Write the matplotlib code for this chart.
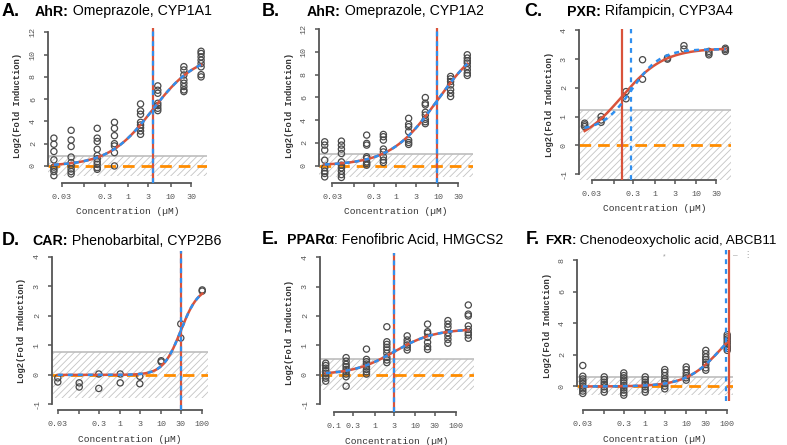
import numpy as np
import matplotlib.pyplot as plt

plt.rcParams['font.family'] = ['Liberation Sans', 'DejaVu Sans']
plt.rcParams['hatch.linewidth'] = 0.6

W, H = 787, 445
RED = '#d9533b'
BLUE = '#2f8fef'
ORANGE = '#ff8c00'
GREY = '#555555'
MONO = 'Liberation Mono'

# ---------------- data ----------------
conc_A = [0.02, 0.05, 0.2, 0.5, 2, 5, 20, 50]
resp_A = [
    [2.5, 1.95, 1.3, 0.55, -0.1, -0.3, -0.5, -0.87],
    [3.2, 2.33, 1.75, 0.8, 0.3, 0.05, -0.27, -0.5, -0.72],
    [3.38, 2.5, 2.2, 1.5, 0.93, 0.65, 0.38, 0.15, -0.15, -0.3],
    [3.92, 3.38, 2.72, 2.0, 1.8, 1.2, 0.0],
    [5.57, 4.94, 4.64, 3.92, 3.68, 3.44, 3.14, 2.84],
    [7.19, 6.8, 6.53, 5.63, 5.42, 5.18, 4.97],
    [8.92, 8.62, 8.17, 7.72, 7.43, 7.13, 6.83, 6.68],
    [10.3, 10.1, 9.8, 9.5, 9.2, 8.9, 8.2, 8.0],
]
conc_B = [0.02, 0.05, 0.2, 0.5, 2, 5, 20, 50]
resp_B = [
    [2.09, 1.8, 1.36, 0.47, -0.2, -0.5, -0.7, -1.0],
    [2.15, 1.8, 1.45, 1.06, 0.32, 0.03, -0.2, -0.5, -0.8, -1.05],
    [2.68, 1.95, 1.8, 0.77, 0.62, 0.32, 0.18, 0.03],
    [2.74, 2.54, 2.24, 1.45, 1.2, 0.77, 0.47, 0.27],
    [4.16, 3.63, 3.42, 2.98, 2.24, 2.03, 1.86],
    [5.99, 5.49, 5.34, 4.69, 4.45, 4.07, 3.86, 3.69],
    [7.85, 7.64, 7.4, 7.1, 6.67, 6.37, 6.08],
    [9.76, 9.47, 9.23, 9.03, 8.73, 8.44, 8.14, 7.94],
]
conc_C = [0.02, 0.05, 0.2, 0.5, 2, 5, 20, 50]
resp_C = [
    [0.77, 0.71, 0.65], [1.0, 0.88, 0.80], [1.87, 1.62], [2.98, 2.3],
    [3.04, 3.0], [3.47, 3.35], [3.27, 3.21, 3.15], [3.38, 3.33, 3.27],
]
conc_D = [0.03, 0.1, 0.3, 1, 3, 10, 30, 100]
resp_D = [
    [-0.1, -0.24], [-0.27, -0.41], [0.03, -0.46], [0.03, -0.27],
    [-0.05, -0.3], [0.48, 0.44], [1.73, 1.25], [2.88, 2.84],
]
conc_E = [0.0632, 0.2, 0.632, 2, 6.32, 20, 63.2, 200]
resp_E = [
    [0.39, 0.31, 0.22, 0.14, 0.05, -0.05, -0.12, -0.22],
    [0.58, 0.46, 0.35, 0.27, 0.18, 0.1, 0.02, -0.07, -0.39],
    [0.87, 0.52, 0.44, 0.36, 0.27, 0.18, 0.10, 0.02],
    [1.63, 1.12, 1.03, 0.93, 0.84, 0.73, 0.59, 0.5, 0.41],
    [1.32, 1.18, 1.09, 1.01, 0.93, 0.84],
    [1.72, 1.46, 1.41, 1.27, 1.1, 0.95, 0.86],
    [1.84, 1.72, 1.61, 1.43, 1.32, 1.2, 1.07],
    [2.37, 2.06, 2.0, 1.66, 1.54, 1.43, 1.35, 1.24],
]
conc_F = [0.03, 0.1, 0.3, 1, 3, 10, 30, 100]
resp_F = [
    [1.33, 0.65, 0.48, 0.34, 0.19, 0.02, -0.15, -0.29, -0.44],
    [0.61, 0.44, 0.27, 0.13, -0.02, -0.19, -0.36],
    [0.86, 0.69, 0.55, 0.4, 0.23, 0.06, -0.08, -0.23, -0.4, -0.55],
    [0.61, 0.44, 0.27, 0.13, -0.02, -0.19, -0.36],
    [1.07, 0.9, 0.69, 0.48, 0.34, 0.19, 0.02, -0.15],
    [1.24, 1.07, 0.86, 0.69, 0.55, 0.4],
    [2.29, 2.08, 1.87, 1.71, 1.54, 1.39, 1.18, 1.03],
    [3.28, 3.14, 3.01, 2.86, 2.72, 2.55, 2.42, 2.29],
]

# fitted curves: [bottom, top, EC50, hill]
fit_red = {'A': [0, 10.1, 3.8, 0.85], 'B': [0, 11.5, 9.7, 0.77],
           'C': [0, 3.38, 0.158, 0.85], 'D': [0, 3.0, 30, 2.0],
           'E': [0, 1.56, 3.0, 0.87], 'F': [0, 4.9, 75, 1.0]}
fit_blue = {'A': [0, 10.1, 3.8, 0.85], 'B': [0, 11.5, 9.7, 0.77],
            'C': [0.5, 3.35, 0.27, 1.25], 'D': [0, 3.0, 30, 2.0],
            'E': [0, 1.56, 3.0, 0.87], 'F': [0, 4.9, 75, 1.0]}
# vertical lines (red, blue)
vline_red = {'A': 3.8, 'B': 9.7, 'C': 0.158, 'D': 30, 'E': 3.0, 'F': 112}
vline_blue = {'A': 3.8, 'B': 9.7, 'C': 0.27, 'D': 30, 'E': 3.0, 'F': 93}
# noise band half width
band = {'A': 0.92, 'B': 1.0, 'C': 1.22, 'D': 0.77, 'E': 0.53, 'F': 0.57}

titles = {
    'A': ('AhR:', ' Omeprazole, CYP1A1'),
    'B': ('AhR:', ' Omeprazole, CYP1A2'),
    'C': ('PXR:', ' Rifampicin, CYP3A4'),
    'D': ('CAR:', ' Phenobarbital, CYP2B6'),
    'E': ('PPARα', ': Fenofibric Acid, HMGCS2'),
    'F': ('FXR:', ' Chenodeoxycholic acid, ABCB11'),
}

xt_short = [0.03, 0.1, 0.3, 1, 3, 10, 30]
xl_short = ['0.03', '', '0.3', '1', '3', '10', '30']
xt_long = [0.03, 0.1, 0.3, 1, 3, 10, 30, 100]
xl_long = ['0.03', '', '0.3', '1', '3', '10', '30', '100']
xt_E = [0.1, 0.3, 1, 3, 10, 30, 100]
xl_E = ['0.1', '0.3', '1', '3', '10', '30', '100']

# layout: pixel box (left, right, top, bottom), log10 xlim, ylim
layout = {
    'A': dict(box=(48, 207, 28, 183), lx=(-1.835, 1.835), yl=(-1.53, 12.39),
              xt=xt_short, xl=xl_short, yt=list(range(0, 13, 2)), data=(conc_A, resp_A),
              letter=(2, 15.5), title=(35, 15.5), tsize=10.2),
    'B': dict(box=(319, 473, 28, 183), lx=(-1.835, 1.835), yl=(-1.54, 12.12),
              xt=xt_short, xl=xl_short, yt=list(range(0, 13, 2)), data=(conc_B, resp_B),
              letter=(262, 15.5), title=(307, 15.5), tsize=10.2),
    'C': dict(box=(579, 731, 29, 180), lx=(-1.835, 1.835), yl=(-1.21, 4.05),
              xt=xt_short, xl=xl_short, yt=list(range(-1, 5)), data=(conc_C, resp_C),
              letter=(524, 15.5), title=(567, 15.5), tsize=10.2),
    'D': dict(box=(52, 208, 251, 410), lx=(-1.664, 2.141), yl=(-1.19, 4.2),
              xt=xt_long, xl=xl_long, yt=list(range(-1, 5)), data=(conc_D, resp_D),
              letter=(2, 245), title=(32, 245), tsize=10.2),
    'E': dict(box=(320, 474, 253, 412), lx=(-1.34, 2.441), yl=(-1.27, 4.14),
              xt=xt_E, xl=xl_E, yt=list(range(-1, 5)), data=(conc_E, resp_E),
              letter=(262, 244), title=(287, 244), tsize=10.2),
    'F': dict(box=(577, 733, 250, 401), lx=(-1.664, 2.141), yl=(-0.92, 8.65),
              xt=xt_long, xl=xl_long, yt=list(range(0, 9, 2)), data=(conc_F, resp_F),
              letter=(526, 244.5), title=(545, 244.5), tsize=9.7, offset=9),
}


def hill(x, p):
    b, t, ec, h = p
    return b + (t - b) / (1 + (ec / x) ** h)


fig = plt.figure(figsize=(W / 100, H / 100), dpi=100)
renderer = fig.canvas.get_renderer()

for key, L in layout.items():
    l, r, t, b = L['box']
    ax = fig.add_axes([l / W, 1 - b / H, (r - l) / W, (b - t) / H])
    ax.set_xscale('log')
    x0, x1 = 10 ** L['lx'][0], 10 ** L['lx'][1]
    ax.set_xlim(x0, x1)
    ax.set_ylim(*L['yl'])

    # noise band + baseline
    thr = band[key]
    ax.fill_between([x0, x1], -thr, thr, facecolor='none', edgecolor='#c4c4c4',
                    linewidth=0, hatch='/////', zorder=1)
    ax.axhline(thr, color='#bdbdbd', lw=1.2, zorder=1)
    ax.axhline(0, color=ORANGE, lw=2.0, dashes=(4.2, 2.5), zorder=2)

    # points
    conc, resp = L['data']
    xs = [c for c, g in zip(conc, resp) for _ in g]
    ys = [v for g in resp for v in g]
    ax.scatter(xs, ys, s=20, facecolors='none', edgecolors='#4a4a4a',
               linewidths=0.9, zorder=3)

    # fitted curves
    xc = np.logspace(np.log10(min(conc)), np.log10(max(conc)), 200)
    ax.plot(xc, hill(xc, fit_red[key]), color=RED, lw=1.8, zorder=4)
    ax.plot(xc, hill(xc, fit_blue[key]), color=BLUE, lw=1.8, dashes=(2, 2), zorder=5)

    # EC50 lines
    ax.axvline(vline_red[key], color=RED, lw=1.6, zorder=4)
    ax.axvline(vline_blue[key], color=BLUE, lw=1.6, dashes=(2.2, 2.2), zorder=5)

    # axes styling, R-like
    for s in ('top', 'right'):
        ax.spines[s].set_visible(False)
    for s in ('left', 'bottom'):
        ax.spines[s].set_color(GREY)
        ax.spines[s].set_linewidth(1.3)
    if 'offset' in L:
        ax.spines['bottom'].set_position(('outward', L['offset'] * 0.72))
    ax.spines['bottom'].set_bounds(L['xt'][0], L['xt'][-1])
    ax.spines['left'].set_bounds(L['yt'][0], L['yt'][-1])
    ax.set_xticks(L['xt'])
    ax.set_xticklabels(L['xl'], fontfamily=MONO, fontsize=6)
    ax.minorticks_off()
    ax.set_yticks(L['yt'])
    ax.set_yticklabels([str(v) for v in L['yt']], fontfamily=MONO, fontsize=6,
                       rotation=90, va='center')
    ax.tick_params(length=3, width=1.1, color=GREY, labelcolor=GREY, pad=5)
    ax.patch.set_alpha(0)

    # axis labels
    xb = b + (L.get('offset', 0))
    fig.text((l + r) / 2 / W, 1 - (xb + 29) / H, 'Concentration (µM)',
             family=MONO, fontsize=6.8, color='#333333', ha='center', va='center')
    fig.text((l - 30) / W, 1 - (t + b) / 2 / H, 'Log2(Fold Induction)',
             family=MONO, fontsize=6.3, fontweight='bold', color='#333333',
             rotation=90, ha='center', va='center')

    # panel letter and title
    lx_, ly_ = L['letter']
    fig.text(lx_ / W, 1 - ly_ / H, key + '.', fontsize=13, fontweight='bold',
             va='baseline')
    tx, ty = L['title']
    bold, rest = titles[key]
    t1 = fig.text(tx / W, 1 - ty / H, bold, fontsize=L['tsize'], fontweight='bold',
                  va='baseline')
    bb = t1.get_window_extent(renderer)
    fig.text(bb.x1 / W, 1 - ty / H, rest, fontsize=L['tsize'], va='baseline')

# small stray marks in panel F
fig.text(664 / W, 1 - 257 / H, '*', fontsize=5, color='#999999', ha='center', va='center')
fig.text(735 / W, 1 - 256 / H, '–', fontsize=6, color='#999999', ha='center', va='center')
fig.text(747 / W, 1 - 256 / H, '⋮', fontsize=6, color='#999999', ha='center', va='center')

fig.savefig('out.png', dpi=100)
